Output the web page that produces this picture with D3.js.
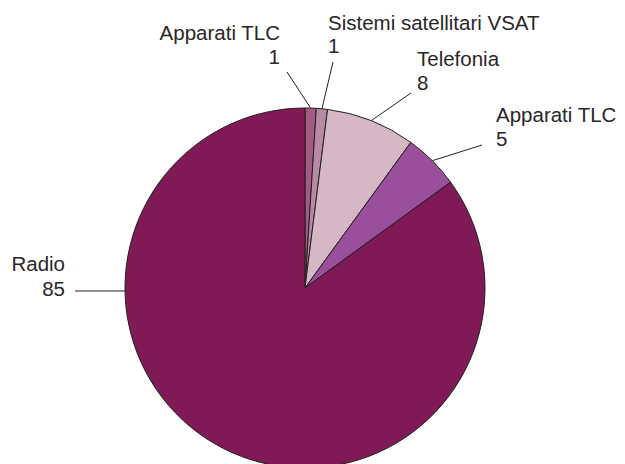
<!DOCTYPE html>
<html>
<head>
<meta charset="utf-8">
<script src="https://cdn.jsdelivr.net/npm/d3@7"></script>
<style>
  body { margin: 0; background: #fff; }
  text { font-family: "Liberation Sans", Arial, sans-serif; font-size: 20.5px; fill: #2a2627; }
</style>
</head>
<body>
<div id="chartDiv"></div>
<script>
// data
const categories = ["Apparati TLC", "Sistemi satellitari VSAT", "Telefonia", "Apparati TLC", "Radio"];
const values = [1, 1, 8, 5, 85];
const colors = ["#a35a84", "#b98aa3", "#d5b7c6", "#9a4f9c", "#801a57"];

var displayChart = function(){
	const canvasW = 625, canvasH = 464;
	const svg = d3.select('#chartDiv')
		.append('svg')
		.attr('width', canvasW)
		.attr('height', canvasH);

	const cx = 305, cy = 288, r = 180;
	const graph = svg.append('g')
		.attr('transform', `translate(${cx},${cy})`);

	const data = categories.map((c, i) => ({name: c, value: values[i], color: colors[i]}));

	const pie = d3.pie().sort(null).value(d => d.value);
	const arc = d3.arc().innerRadius(0).outerRadius(r);
	const arcs = pie(data);

	graph.selectAll('path')
		.data(arcs)
		.enter()
		.append('path')
		.attr('d', arc)
		.attr('fill', d => d.data.color)
		.attr('stroke', '#231f20')
		.attr('stroke-width', 1);

	// label placement: anchor x, baselines of both lines, leader start
	const labelPos = [
		{x: 280, y: 40, y2: 64, anchor: 'end', lx: 287, ly: 72},
		{x: 328, y: 30, y2: 53, anchor: 'start', lx: 333, ly: 62},
		{x: 417, y: 66, y2: 90, anchor: 'start', lx: 411, ly: 93},
		{x: 496, y: 122, y2: 146, anchor: 'start', lx: 482, ly: 145},
		{x: 65, y: 271, y2: 296, anchor: 'end', lx: 75, ly: 291}
	];

	const labels = svg.append('g');
	arcs.forEach((a, i) => {
		const p = labelPos[i];
		const mid = (a.startAngle + a.endAngle) / 2;
		let ex = cx + Math.sin(mid) * r;
		let ey = cy - Math.cos(mid) * r;
		if (i === 4) { ex = cx - r + 1; ey = p.ly; }
		labels.append('line')
			.attr('x1', p.lx).attr('y1', p.ly)
			.attr('x2', ex).attr('y2', ey)
			.attr('stroke', '#231f20')
			.attr('stroke-width', 1);
		[[a.data.name, p.y], [a.data.value, p.y2]].forEach(([txt, by]) => {
			labels.append('text')
				.attr('x', p.x)
				.attr('y', by)
				.attr('text-anchor', p.anchor)
				.text(txt);
		});
	});
}

displayChart();
</script>
</body>
</html>
